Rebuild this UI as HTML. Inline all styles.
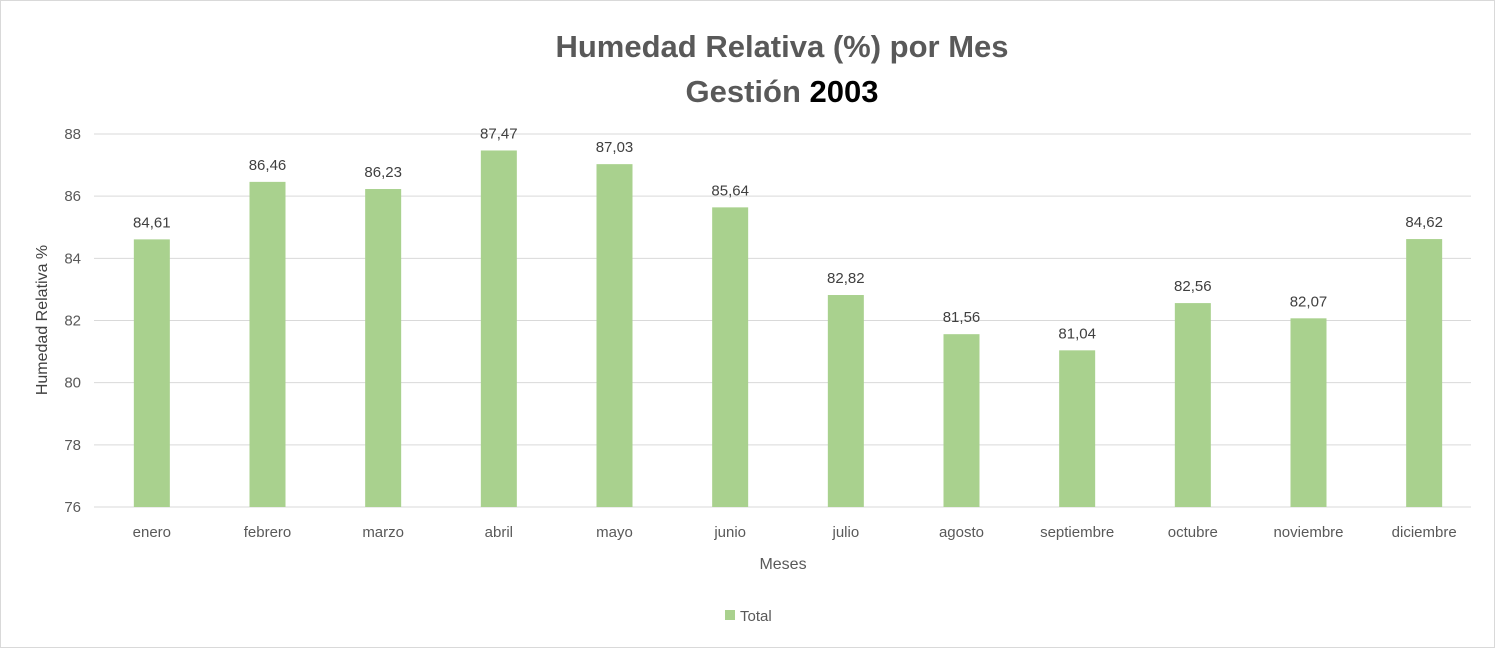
<!DOCTYPE html>
<html><head><meta charset="utf-8"><style>
body{margin:0;background:#fff;}
svg{display:block;font-family:"Liberation Sans",Calibri,sans-serif;}
</style></head><body>
<svg id="chart" width="1495" height="648" xmlns="http://www.w3.org/2000/svg">
<rect x="0.5" y="0.5" width="1494" height="647" fill="#fff" stroke="#d9d9d9"/>
<text x="782" y="57" text-anchor="middle" font-size="31" font-weight="bold" fill="#595959">Humedad Relativa (%) por Mes</text>
<text x="782" y="102" text-anchor="middle" font-size="31" font-weight="bold" fill="#595959">Gestión <tspan fill="#000">2003</tspan></text>
<g id="grid"></g><g id="bars"></g><g id="labels"></g>
<text transform="translate(47,320) rotate(-90)" text-anchor="middle" font-size="16" fill="#404040">Humedad Relativa %</text>
<text x="783" y="569" text-anchor="middle" font-size="16" fill="#595959">Meses</text>
<rect x="725" y="610" width="10" height="10" fill="#a9d18e"/>
<text x="740" y="621" font-size="15" fill="#595959">Total</text>
</svg>
<script>
const categories=["enero","febrero","marzo","abril","mayo","junio","julio","agosto","septiembre","octubre","noviembre","diciembre"];
const values=[84.61,86.46,86.23,87.47,87.03,85.64,82.82,81.56,81.04,82.56,82.07,84.62];
const valueLabels=["84,61","86,46","86,23","87,47","87,03","85,64","82,82","81,56","81,04","82,56","82,07","84,62"];
const yTicks=[76,78,80,82,84,86,88];
const NS="http://www.w3.org/2000/svg";
const plotLeft=94,plotRight=1482,plotTop=134,plotBottom=507,yMin=76,yMax=88;
const yScale=v=>plotBottom-(v-yMin)/(yMax-yMin)*(plotBottom-plotTop);
const step=(plotRight-plotLeft)/categories.length;
const xScale=i=>plotLeft+step*(i+0.5);
function mk(tag,attrs,parent,txt){const e=document.createElementNS(NS,tag);for(const k in attrs)e.setAttribute(k,attrs[k]);if(txt!==undefined)e.textContent=txt;document.getElementById(parent).appendChild(e);return e;}
yTicks.forEach(t=>{
  const l=mk('line',{x1:plotLeft,x2:1471,y1:yScale(t),y2:yScale(t),stroke:'#d9d9d9','stroke-width':1},'grid');
  
  
  const tx=mk('text',{x:81,y:yScale(t)+5,'text-anchor':'end','font-size':15,fill:'#595959'},'labels',t);
  
  
});
categories.forEach((c,i)=>{
  const b=mk('rect',{x:xScale(i)-18,y:yScale(values[i]),width:36,height:plotBottom-yScale(values[i]),fill:'#a9d18e'},'bars');
  
  
  const v=mk('text',{x:xScale(i),y:yScale(values[i])-12,'text-anchor':'middle','font-size':15,fill:'#404040'},'labels',valueLabels[i]);
  
  
  const cl=mk('text',{x:xScale(i),y:537,'text-anchor':'middle','font-size':15,fill:'#595959'},'labels',c);
  
  
});
</script>
</body></html>
